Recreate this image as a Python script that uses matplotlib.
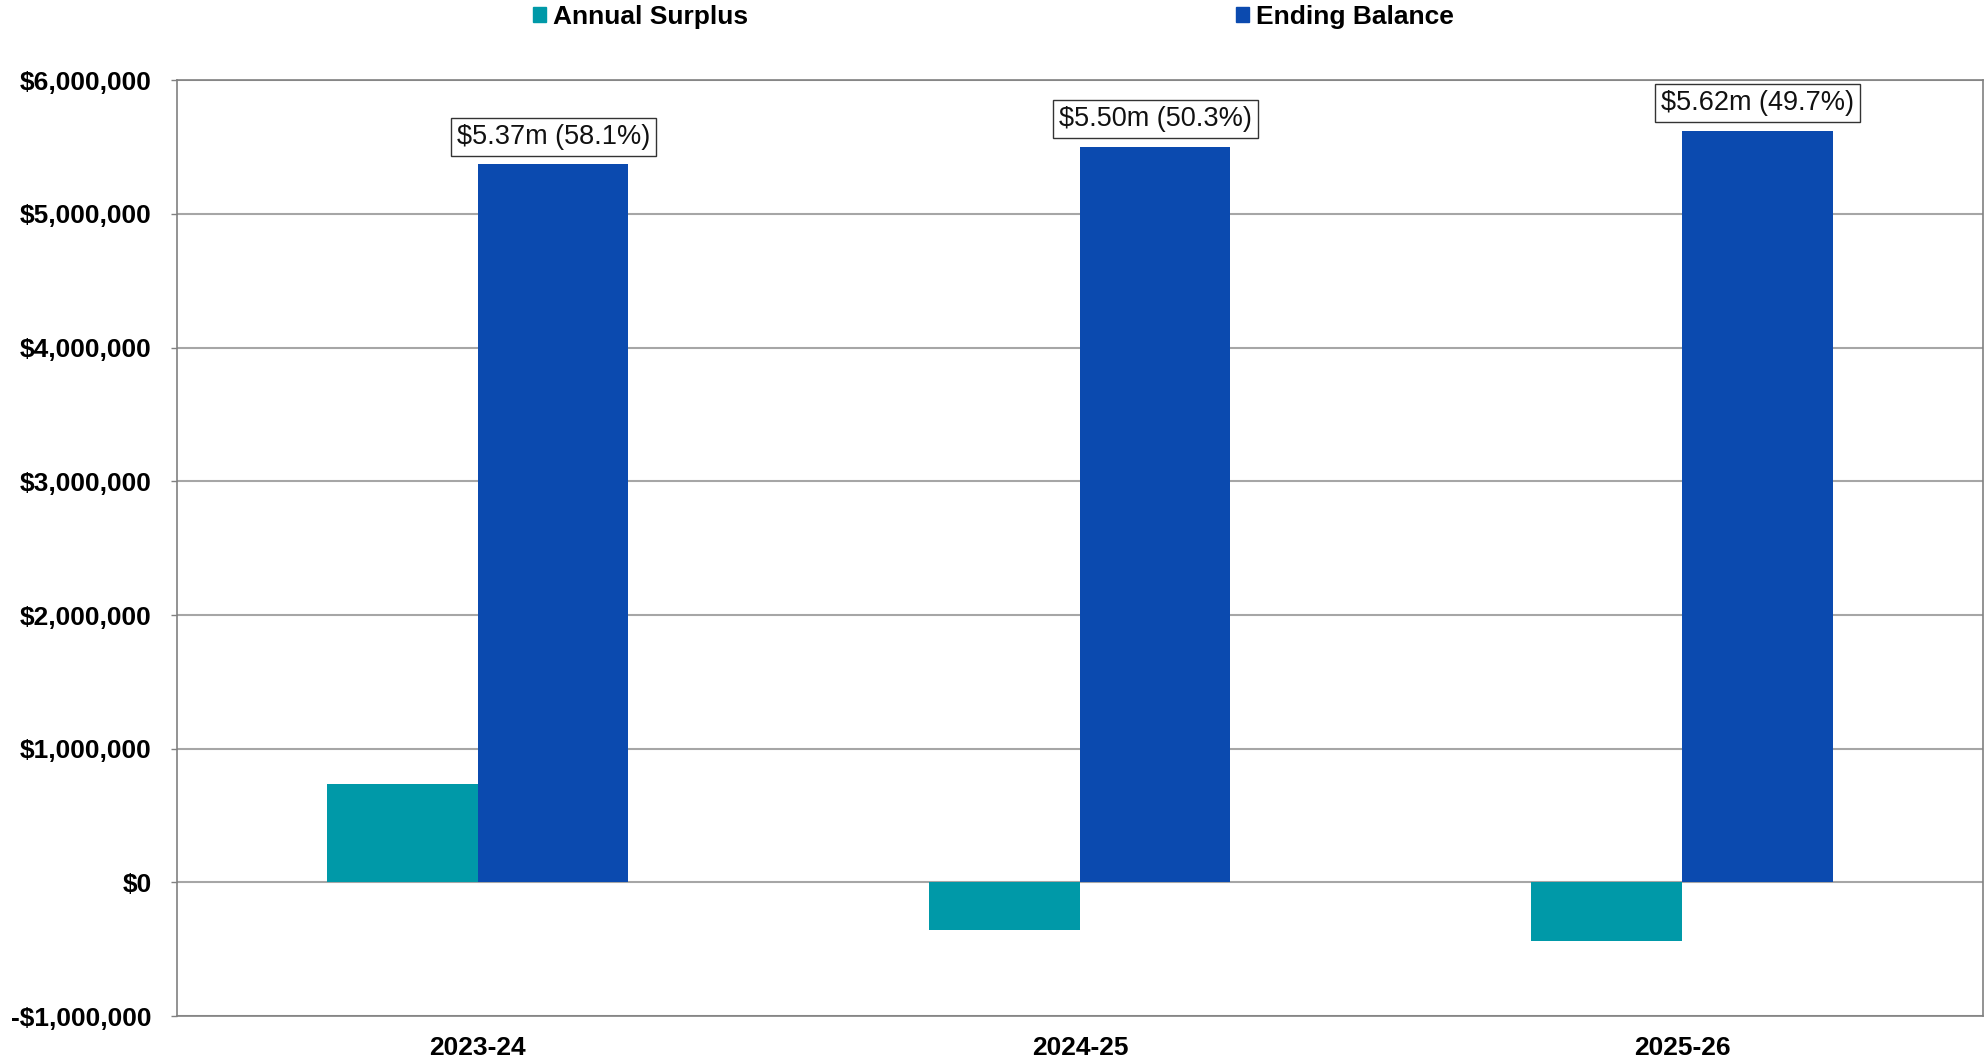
import matplotlib
matplotlib.use("Agg")
import matplotlib.pyplot as plt
import numpy as np
from matplotlib.patches import Patch
from matplotlib.ticker import FuncFormatter

years = ["2023-24", "2024-25", "2025-26"]
annual_surplus = [738000, -352000, -441000]
ending_balance = [5370000, 5500000, 5620000]
reserve_pct = [58.1, 50.3, 49.7]

TEAL = "#0099A8"
BLUE = "#0B4AAF"

plt.rcParams["font.family"] = ["Liberation Sans", "DejaVu Sans"]


def money(value, _pos=None):
    if value < 0:
        return "-${:,.0f}".format(-value)
    return "${:,.0f}".format(value)


fig = plt.figure(figsize=(19.87, 10.63), dpi=100)
ax = fig.add_axes([0.089, 0.044, 0.909, 0.8807])

x = np.arange(len(years))
width = 0.25
ax.bar(x - width / 2, annual_surplus, width, color=TEAL, zorder=3)
ax.bar(x + width / 2, ending_balance, width, color=BLUE, zorder=3)

# balance labels with reserve percentage, boxed above each blue bar
for xi, bal, pct in zip(x, ending_balance, reserve_pct):
    ax.annotate("${:.2f}m ({:.1f}%)".format(bal / 1e6, pct),
                xy=(xi + width / 2, bal), xytext=(0, 10.5),
                textcoords="offset points", ha="center", va="bottom",
                fontsize=19.5, color="#111111", zorder=5,
                bbox=dict(boxstyle="square,pad=0.22", fc="white",
                          ec="#333333", lw=1.0))

ax.set_xlim(-0.5, len(years) - 0.5)
ax.set_ylim(-1000000, 6000000)
ax.set_yticks(np.arange(-1000000, 6000001, 1000000))
ax.yaxis.set_major_formatter(FuncFormatter(money))
ax.set_xticks(x)
ax.set_xticklabels(years)

ax.grid(axis="y", color="#A6A6A6", lw=1.5, zorder=0)
for side in ax.spines.values():
    side.set_color("#808080")
    side.set_linewidth(1.2)

ax.tick_params(axis="y", length=4, width=1, color="#808080", pad=14,
               labelsize=19)
ax.tick_params(axis="x", length=0, pad=14, labelsize=19)
for lbl in ax.get_xticklabels() + ax.get_yticklabels():
    lbl.set_fontweight("bold")

handles = [Patch(color=TEAL, label="Annual Surplus"),
           Patch(color=BLUE, label="Ending Balance")]
fig.legend(handles=handles, loc="center", bbox_to_anchor=(0.5, 0.984),
           ncol=2, frameon=False, handlelength=0.5, handleheight=0.5,
           handletextpad=0.25, columnspacing=18.5,
           prop={"size": 19, "weight": "bold"})

fig.savefig("out.png", dpi=100)
